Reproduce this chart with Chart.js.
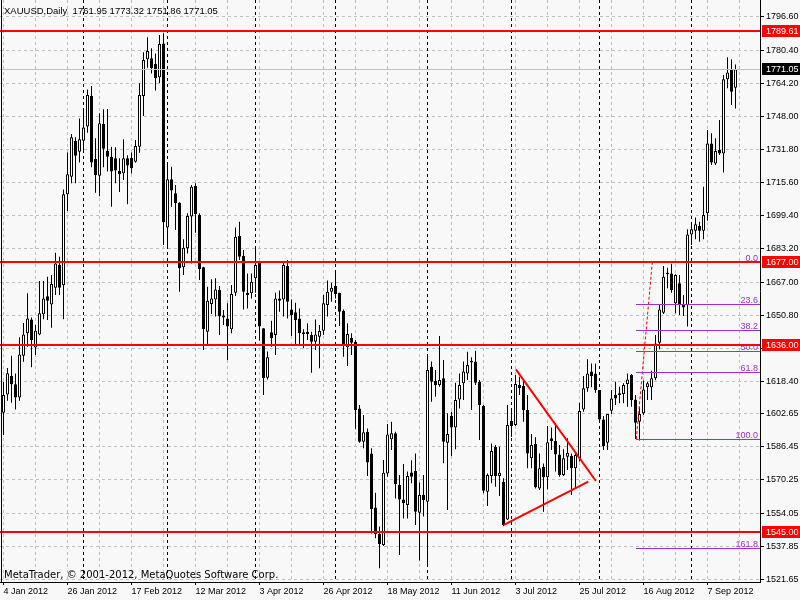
<!DOCTYPE html>
<html>
<head>
<meta charset="utf-8">
<title>XAUUSD,Daily</title>
<script src="https://cdn.jsdelivr.net/npm/chart.js@4.4.1/dist/chart.umd.min.js"></script>
<style>
  html, body { margin: 0; padding: 0; background: #f8f8f8; }
  canvas { display: block; }
</style>
</head>
<body>
<canvas id="grafik" width="800" height="600"></canvas>
<script>
// daily bars, 4 Jan 2012 .. 18 Sep 2012
const candleOpen = [
  1603.1, 1612, 1621, 1617, 1610.5, 1631, 1642, 1648.7, 1635, 1641.4,
  1651.2, 1660, 1656, 1664.2, 1675.5, 1665.4, 1709.9, 1718.5, 1736.1, 1730.7,
  1736.1, 1743, 1758, 1727.2, 1719, 1744.3, 1731.2, 1728.3, 1727.5, 1721.3,
  1720.2, 1727.5, 1727.6, 1725.8, 1733.2, 1758, 1775.9, 1776.4, 1773.6, 1767.1,
  1783.7, 1693.7, 1717.2, 1710.4, 1705.8, 1674.2, 1683.5, 1699, 1713.9, 1699.8,
  1674.2, 1642.7, 1656.3, 1658.5, 1663.1, 1650.6, 1649.2, 1643.9, 1661.8, 1689.5,
  1679.7, 1661.8, 1661.5, 1668.8, 1676.6, 1644.4, 1620.2, 1642.4, 1641.1, 1659,
  1658.5, 1674.8, 1653.6, 1652.2, 1649.2, 1641.6, 1642.7, 1641.1, 1637.8, 1640.3,
  1643.2, 1655.8, 1662.3, 1665.1, 1661.8, 1653, 1635.1, 1639.8, 1637.8, 1605.2,
  1588.9, 1593.8, 1583.2, 1556.8, 1543.8, 1538.4, 1573.4, 1590.1, 1593, 1567.8,
  1560.7, 1558, 1573.9, 1574.6, 1554.2, 1562.9, 1559.6, 1625.6, 1618.6, 1616.6,
  1619.9, 1588.4, 1601.5, 1595.9, 1609.6, 1617.5, 1622.3, 1628.5, 1628.1, 1618.3,
  1606.4, 1564.5, 1572.1, 1586.5, 1572.1, 1569.4, 1550.9, 1599, 1597.1, 1616.6,
  1616.2, 1604.4, 1580.8, 1587.8, 1566.1, 1576.7, 1571.5, 1590.6, 1589.3, 1582.7,
  1572.6, 1581.6, 1581.9, 1575.9, 1580.8, 1604.7, 1615, 1623.2, 1622.3, 1614.2,
  1599.8, 1588.4, 1604.1, 1611.8, 1611.8, 1612.2, 1617.1, 1621.5, 1609.6, 1598.7,
  1602.8, 1615.5, 1615.5, 1619.9, 1637.3, 1652, 1671.5, 1671.2, 1656.6, 1666.4,
  1656.1, 1655.8, 1690.3, 1692.1, 1694.4, 1692.1, 1700.6, 1734.8, 1725, 1731.6,
  1729.9, 1766.1, 1770.7, 1761.95
];
const candleHigh = [
  1618.3, 1625, 1631, 1622.3, 1640, 1647, 1661.5, 1649.7, 1646, 1667.5,
  1667.5, 1669.6, 1670.4, 1681.3, 1679.4, 1712.3, 1730.3, 1739.4, 1737.8, 1747,
  1750.8, 1761.2, 1762.9, 1737.3, 1749.5, 1751.5, 1751.6, 1733.2, 1732.9, 1727.5,
  1736.8, 1729, 1730.3, 1736.5, 1764.2, 1779.3, 1786.7, 1781.3, 1778.8, 1787.8,
  1788.6, 1725, 1723.4, 1714.4, 1706, 1687.9, 1700.6, 1714.4, 1715.3, 1700.6,
  1674.5, 1664.7, 1668.3, 1668.8, 1665, 1653.3, 1656.6, 1665.5, 1693.7, 1696.5,
  1682.7, 1671.2, 1671.2, 1683.5, 1677, 1644.4, 1633, 1648.1, 1661.8, 1662.8,
  1677, 1677.8, 1658.5, 1656.9, 1654.1, 1643.9, 1646.8, 1642.7, 1648.7, 1646,
  1660.7, 1667.7, 1666.7, 1671.6, 1661.8, 1653.6, 1646.8, 1641.9, 1638.6, 1606.9,
  1602, 1595.4, 1585.7, 1564, 1547.4, 1580, 1597.6, 1598.7, 1593.8, 1572.6,
  1578, 1574.3, 1579.9, 1583.2, 1569, 1572.6, 1631.3, 1628.1, 1624, 1640.6,
  1628.9, 1602.8, 1603.6, 1617.8, 1622.3, 1628.1, 1632.9, 1630.2, 1633.4, 1619.1,
  1606.9, 1573.4, 1588.1, 1587.3, 1586.5, 1571, 1606.9, 1604.4, 1621.5, 1620.7,
  1619.4, 1611.8, 1592.7, 1591.1, 1583.2, 1578.3, 1596.6, 1595.9, 1597.9, 1587.3,
  1585.2, 1590.6, 1583.2, 1583.2, 1608, 1621, 1629.2, 1627.2, 1627.2, 1614.2,
  1601.5, 1602.5, 1614.2, 1618.3, 1615.8, 1617.5, 1622.3, 1622, 1611.8, 1606,
  1618.8, 1618.3, 1623.6, 1641.1, 1655.8, 1674.8, 1674, 1676, 1670.8, 1670.4,
  1660.7, 1692.8, 1694.9, 1698.6, 1696.5, 1713.6, 1741.3, 1739.7, 1737.3, 1746.2,
  1768.2, 1776.9, 1775.9, 1773.32
];
const candleLow = [
  1592.2, 1609, 1608, 1604.7, 1609, 1628, 1635.4, 1625.3, 1631.3, 1641,
  1648.8, 1648.4, 1644.7, 1660.7, 1660.7, 1648.8, 1701.7, 1715.3, 1715.3, 1725.5,
  1731.6, 1740, 1723.1, 1710.7, 1709, 1723.1, 1721, 1703.8, 1715.3, 1711,
  1716.9, 1705, 1720.1, 1725.3, 1730.2, 1748.2, 1771.8, 1769, 1760.6, 1764.2,
  1685.1, 1683.5, 1703.8, 1692.4, 1662.3, 1670.4, 1681, 1676.1, 1691.1, 1668,
  1633.8, 1636.2, 1651.4, 1650.1, 1641.1, 1646, 1628.9, 1641.9, 1660.2, 1677.8,
  1653.6, 1654.1, 1659, 1661.8, 1638.3, 1611.8, 1619.4, 1635.4, 1631.3, 1652.5,
  1650.1, 1649.2, 1640.6, 1636.2, 1636.2, 1634.6, 1638.6, 1622.7, 1633.8, 1624.8,
  1641.1, 1650.1, 1657.4, 1659, 1645.5, 1630.5, 1625.9, 1631.3, 1595, 1588.4,
  1585.7, 1572.1, 1544, 1541.7, 1527, 1537.9, 1571.8, 1584.9, 1561.2, 1533.5,
  1551.4, 1551.4, 1568.6, 1548.2, 1530.8, 1552.3, 1527.8, 1608.5, 1610.9, 1615.8,
  1578.4, 1555.5, 1581.9, 1585.2, 1605.2, 1609.3, 1619.1, 1604.4, 1616.6, 1589.7,
  1563.7, 1557.5, 1568.6, 1566.9, 1562.4, 1547.6, 1550.6, 1591.4, 1596.6, 1611.8,
  1598.7, 1575.9, 1575.9, 1566.1, 1565.3, 1554.7, 1565.6, 1584.9, 1574.3, 1571.8,
  1572.1, 1575.1, 1562.9, 1566.1, 1579.2, 1603.6, 1613.4, 1615.5, 1612.9, 1598.2,
  1584.9, 1584.9, 1602.5, 1606.9, 1607.7, 1607.7, 1606, 1606, 1590.2, 1589.5,
  1602, 1609.3, 1609.3, 1619, 1634.1, 1651.4, 1664, 1661.8, 1651.7, 1650.9,
  1650.4, 1645.2, 1685.1, 1687.9, 1686.7, 1687.9, 1697, 1724.2, 1724.2, 1729.1,
  1720.5, 1761.7, 1753.6, 1751.86
];
const candleClose = [
  1611.7, 1622.4, 1617, 1610.5, 1631.6, 1641.4, 1649.2, 1638.6, 1643.2, 1651.7,
  1659, 1657.9, 1666, 1676.1, 1664.2, 1709.9, 1719.7, 1737.8, 1728.8, 1736.8,
  1742.6, 1758.5, 1725.4, 1719.3, 1744.6, 1732.2, 1728.3, 1721, 1721.5, 1719.7,
  1727.5, 1724, 1722.6, 1733.5, 1758.5, 1775.6, 1780, 1771.5, 1766.6, 1783.4,
  1696.2, 1717.2, 1711.7, 1705.5, 1673.7, 1683.8, 1699.3, 1713.6, 1700.3, 1673.2,
  1643.9, 1657.9, 1659, 1663.4, 1650.1, 1649.6, 1645.2, 1661.1, 1689.2, 1679.4,
  1662.3, 1660.6, 1667.1, 1675.3, 1645.2, 1619.9, 1630.2, 1639.5, 1659, 1657.9,
  1675.3, 1657.4, 1650.9, 1648.4, 1641.9, 1642.4, 1641.6, 1637.8, 1641.4, 1643.1,
  1656.6, 1662.3, 1664.2, 1661.1, 1652.5, 1635.7, 1641.6, 1637.3, 1604.4, 1588.9,
  1593.5, 1578.7, 1556, 1543.8, 1538.9, 1573.8, 1592.5, 1593, 1568.1, 1560.7,
  1558.8, 1572.1, 1571.8, 1554.7, 1562.9, 1560.4, 1624, 1618.3, 1616.6, 1619.1,
  1588.9, 1592.7, 1595.9, 1609.3, 1616.6, 1623.2, 1626.4, 1627.6, 1617.8, 1606.9,
  1565, 1572.6, 1584.4, 1572.1, 1573.8, 1548.2, 1597.1, 1596.6, 1617.1, 1615,
  1604.4, 1583.2, 1587.3, 1566.6, 1575.9, 1571.5, 1588.6, 1589.3, 1582.7, 1572.6,
  1580.8, 1583.5, 1575.9, 1582.4, 1603.9, 1615, 1622.3, 1621, 1614.2, 1599.8,
  1586.8, 1602.5, 1610.1, 1610.1, 1612.6, 1616.6, 1619.4, 1609.3, 1598.2, 1602.5,
  1614.5, 1617.5, 1619.9, 1637, 1653.6, 1669.6, 1670.8, 1663.1, 1670.4, 1656.3,
  1654.6, 1690.3, 1692.8, 1695.2, 1692.1, 1699.8, 1734.8, 1725.4, 1731.1, 1729.9,
  1766.1, 1769.5, 1760.1, 1771.05
];

// axis texts
const xTickLabels = ["4 Jan 2012", "26 Jan 2012", "17 Feb 2012", "12 Mar 2012", "3 Apr 2012", "26 Apr 2012",
  "18 May 2012", "11 Jun 2012", "3 Jul 2012", "25 Jul 2012", "16 Aug 2012", "7 Sep 2012"];
const yTickLabels = ["1796.60", "1780.40", "1764.20", "1748.00", "1731.80", "1715.60", "1699.40", "1683.20",
  "1667.00", "1650.80", "1634.60", "1618.40", "1602.65", "1586.45", "1570.25", "1554.05", "1537.85", "1521.65"];

// bar index of the first bar of each month (period separators)
const monthStartIdx = [20, 41, 63, 83, 106, 127, 149, 172];

// objects drawn on the chart
const hLevels = [1789.61, 1677.00, 1636.00, 1545.00];
const bidPrice = 1771.05;
const trendUpper = [[128.1, 1624.3], [148.1, 1569.7]];
const trendLower = [[125.1, 1548.2], [146.2, 1569.4]];
const fiboAnchor = [[158.2, 1590.2], [162.2, 1676.7]];
const fiboLevels = [0, 23.6, 38.2, 50, 61.8, 100, 161.8];
const headerText = "XAUUSD,Daily  1761.95 1773.32 1751.86 1771.05";
const copyText = "MetaTrader, \u00a9 2001-2012, MetaQuotes Software Corp.";

const FONT = '"Liberation Sans", Arial, sans-serif';

function toPts(arr) {
    return arr.map(p => ({ x: p[0], y: p[1] }));
}

const chartOverlays = {
    id: 'chartOverlays',
    beforeDraw(chart) {
        const ctx = chart.ctx;
        ctx.save();
        ctx.fillStyle = '#f8f8f8';
        ctx.fillRect(0, 0, chart.width, chart.height);
        ctx.restore();
    },
    beforeDatasetsDraw(chart) {
        const { ctx, chartArea: a, scales: { x } } = chart;
        ctx.save();
        ctx.strokeStyle = '#000';
        ctx.lineWidth = 1;
        ctx.setLineDash([3, 3]);
        monthStartIdx.forEach(i => {
            const px = Math.floor(x.getPixelForValue(i)) + 0.5;
            ctx.beginPath();
            ctx.moveTo(px, a.top);
            ctx.lineTo(px, a.bottom);
            ctx.stroke();
        });
        ctx.restore();
    },
    afterDatasetsDraw(chart) {
        const { ctx, chartArea: a, scales: { x, y } } = chart;
        ctx.save();
        ctx.beginPath();
        ctx.rect(a.left, a.top, a.width, a.height);
        ctx.clip();

        // fibonacci levels
        const lo = fiboAnchor[0][1], hi = fiboAnchor[1][1];
        const fx = Math.floor(x.getPixelForValue(fiboAnchor[0][0]));
        ctx.font = '9px ' + FONT;
        ctx.textAlign = 'right';
        ctx.textBaseline = 'alphabetic';
        fiboLevels.forEach(lv => {
            const py = Math.round(y.getPixelForValue(hi - (hi - lo) * lv / 100)) + 0.5;
            ctx.strokeStyle = '#9932cc';
            ctx.lineWidth = 1;
            ctx.beginPath();
            ctx.moveTo(fx, py);
            ctx.lineTo(a.right, py);
            ctx.stroke();
            ctx.fillStyle = '#9932cc';
            ctx.fillText(lv.toFixed(1), a.right - 2, py - 2);
        });

        // bid line
        const by = Math.round(y.getPixelForValue(bidPrice)) + 0.5;
        ctx.strokeStyle = '#c0c0c0';
        ctx.beginPath();
        ctx.moveTo(a.left, by);
        ctx.lineTo(a.right, by);
        ctx.stroke();

        // red horizontal levels
        ctx.fillStyle = '#ff0000';
        hLevels.forEach(v => {
            const py = Math.round(y.getPixelForValue(v));
            ctx.fillRect(a.left, py - 1, a.width, 2);
        });
        ctx.restore();
    },
    afterDraw(chart) {
        const { ctx, chartArea: a, scales: { y } } = chart;
        ctx.save();
        // left frame
        ctx.fillStyle = '#000';
        ctx.fillRect(1, a.top, 1, a.height);

        // price boxes on the axis
        ctx.font = '9px ' + FONT;
        ctx.textAlign = 'left';
        ctx.textBaseline = 'middle';
        const boxes = hLevels.map(v => ({ v: v, bg: '#ff0000' }));
        boxes.push({ v: bidPrice, bg: '#000000' });
        boxes.forEach(b => {
            const py = Math.round(y.getPixelForValue(b.v));
            ctx.fillStyle = b.bg;
            ctx.fillRect(a.right + 2, py - 6, chart.width - a.right - 2, 12);
            ctx.fillStyle = '#ffffff';
            ctx.fillText(b.v.toFixed(2), a.right + 6, py + 0.5);
        });

        // header and copyright
        ctx.fillStyle = '#000';
        ctx.textBaseline = 'alphabetic';
        ctx.font = '9.5px ' + FONT;
        ctx.fillText(headerText, 4, 13.5);
        ctx.font = '10px "DejaVu Sans", sans-serif';
        ctx.fillText(copyText, 4, 577.5);
        ctx.restore();
    }
};

function buatGrafik() {
    const ctx = document.getElementById("grafik").getContext("2d");
    const n = candleOpen.length;

    const bodies = [], wicks = [], bodyColors = [];
    for (let i = 0; i < n; i++) {
        bodies.push({ x: i, y: [candleOpen[i], candleClose[i]] });
        wicks.push({ x: i, y: [candleLow[i], candleHigh[i]] });
        bodyColors.push(candleClose[i] >= candleOpen[i] ? '#ffffff' : '#000000');
    }

    // grid every 8 bars, labels every 16
    const xGrid = [];
    for (let i = 0; i <= n; i += 8) xGrid.push(i);

    Chart.defaults.font.family = FONT;
    Chart.defaults.font.size = 9;
    Chart.defaults.color = '#000';

    window.myChart = new Chart(ctx, {
        type: "bar",
        data: {
            datasets: [
                {
                    label: "wick",
                    data: wicks,
                    backgroundColor: '#000000',
                    borderWidth: 0,
                    grouped: false,
                    categoryPercentage: 1,
                    barPercentage: 0.25,
                    maxBarThickness: 1,
                    inflateAmount: 0,
                    order: 3
                },
                {
                    label: "body",
                    data: bodies,
                    backgroundColor: bodyColors,
                    borderColor: '#000000',
                    borderWidth: 1,
                    borderSkipped: false,
                    grouped: false,
                    categoryPercentage: 1,
                    barPercentage: 0.75,
                    maxBarThickness: 3,
                    minBarLength: 1,
                    inflateAmount: 0,
                    order: 2
                },
                {
                    type: "line",
                    label: "upper",
                    data: toPts(trendUpper),
                    borderColor: '#ff0000',
                    borderWidth: 2,
                    pointRadius: 0,
                    fill: false,
                    order: 1
                },
                {
                    type: "line",
                    label: "lower",
                    data: toPts(trendLower),
                    borderColor: '#ff0000',
                    borderWidth: 2,
                    pointRadius: 0,
                    fill: false,
                    order: 1
                },
                {
                    type: "line",
                    label: "fibo",
                    data: toPts(fiboAnchor),
                    borderColor: '#ff0000',
                    borderWidth: 1,
                    borderDash: [3, 2],
                    pointRadius: 0,
                    fill: false,
                    order: 1
                }
            ]
        },
        options: {
            responsive: false,
            animation: false,
            events: [],
            layout: { padding: 0 },
            plugins: {
                legend: { display: false },
                tooltip: { enabled: false }
            },
            scales: {
                x: {
                    type: 'linear',
                    min: -0.875,
                    max: 189.125,
                    offset: false,
                    afterFit(s) { s.height = 18; s.paddingLeft = 0; s.paddingRight = 0; },
                    afterBuildTicks(s) { s.ticks = xGrid.map(v => ({ value: v })); },
                    grid: {
                        color: '#c0c0c0',
                        offset: false,
                        tickLength: 3,
                        tickColor: c => (c.tick && c.tick.value % 16 === 0 && c.tick.value / 16 < xTickLabels.length) ? '#000' : 'rgba(0,0,0,0)'
                    },
                    border: { color: '#000', width: 1, dash: [3, 3] },
                    ticks: {
                        align: 'start',
                        maxRotation: 0,
                        autoSkip: false,
                        padding: 1,
                        callback: v => (v % 16 === 0 ? (xTickLabels[v / 16] || '') : '')
                    }
                },
                y: {
                    position: 'right',
                    min: 1520.32,
                    max: 1804.91,
                    afterFit(s) { s.width = 40; s.paddingTop = 0; s.paddingBottom = 0; },
                    afterBuildTicks(s) { s.ticks = yTickLabels.map(t => ({ value: parseFloat(t) })); },
                    grid: { color: '#c0c0c0', tickLength: 4, tickColor: '#000' },
                    border: { color: '#000', width: 1, dash: [3, 3] },
                    ticks: {
                        autoSkip: false,
                        padding: 2,
                        callback: (v, i) => yTickLabels[i]
                    }
                }
            }
        },
        plugins: [chartOverlays]
    });
}

buatGrafik();
</script>
</body>
</html>
